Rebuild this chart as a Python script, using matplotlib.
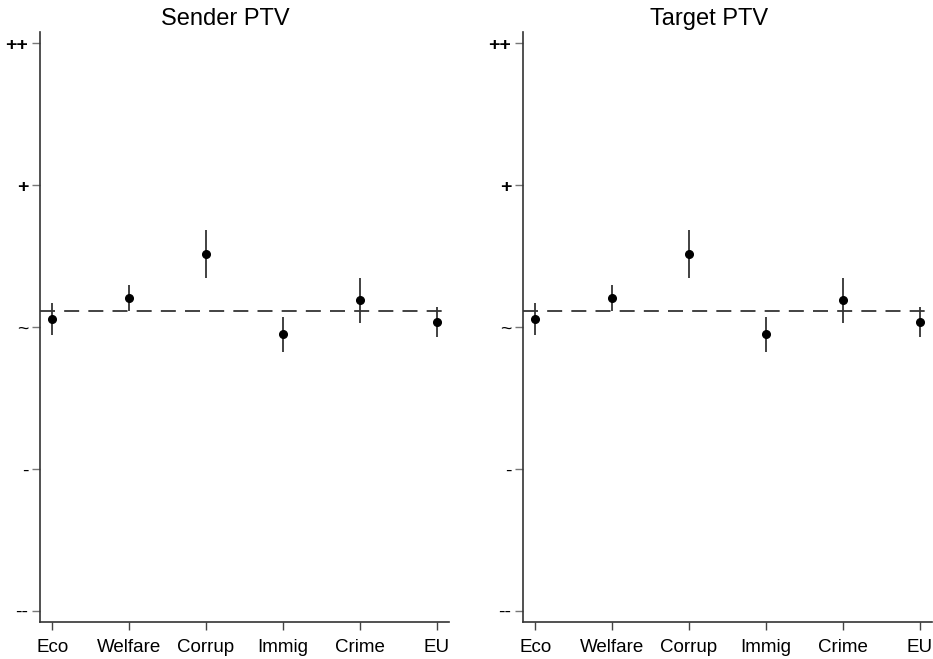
import matplotlib
matplotlib.use('Agg')
import matplotlib.pyplot as plt

plt.rcParams['font.family'] = ['Liberation Sans', 'DejaVu Sans']

# categorias y valores
categorias = ['Eco', 'Welfare', 'Corrup', 'Immig', 'Crime', 'EU']
etiquetas_y = ['--', '-', '~', '+', '++']
valores_y = [-2, -1, 0, 1, 2]

sender_est = [0.053, 0.203, 0.516, -0.048, 0.187, 0.034]
sender_low = [-0.055, 0.111, 0.347, -0.173, 0.027, -0.071]
sender_high = [0.168, 0.298, 0.686, 0.074, 0.347, 0.140]

target_est = [0.053, 0.203, 0.516, -0.048, 0.187, 0.034]
target_low = [-0.055, 0.111, 0.347, -0.173, 0.027, -0.071]
target_high = [0.168, 0.298, 0.686, 0.074, 0.347, 0.140]

linea_ref = 0.116
titulos = ['Sender PTV', 'Target PTV']


def dibujar_panel(ax, est, low, high):
    x = list(range(1, len(categorias) + 1))
    ax.axhline(linea_ref, color='#222222', linewidth=1.2, dashes=(9, 5.5), zorder=1)
    ax.vlines(x, low, high, color='#333333', linewidth=1.3, zorder=2)
    ax.plot(x, est, 'o', color='black', markersize=5.5, zorder=3)
    ax.set_xlim(0.84, 6.16)
    ax.set_ylim(-2.08, 2.08)
    ax.set_xticks(x)
    ax.set_xticklabels(categorias, fontsize=13.5)
    ax.set_yticks(valores_y)
    ax.set_yticklabels(etiquetas_y, fontsize=14)
    # los signos + se ven mas gruesos en el original
    for etiqueta in ax.get_yticklabels():
        if '+' in etiqueta.get_text():
            etiqueta.set_fontweight('bold')
    ax.spines['top'].set_visible(False)
    ax.spines['right'].set_visible(False)
    for s in ['left', 'bottom']:
        ax.spines[s].set_color('#333333')
        ax.spines[s].set_linewidth(1.2)
    ax.tick_params(axis='x', length=5.5, width=1, color='#444444', pad=7)
    ax.tick_params(axis='y', length=5.5, width=1, color='#777777', pad=3)


def main():
    fig = plt.figure(figsize=(9.33, 6.59), dpi=100)
    ax1 = fig.add_axes([40 / 933, 1 - 622 / 659, 409 / 933, 590 / 659])
    ax2 = fig.add_axes([523 / 933, 1 - 622 / 659, 409 / 933, 590 / 659])
    dibujar_panel(ax1, sender_est, sender_low, sender_high)
    dibujar_panel(ax2, target_est, target_low, target_high)
    fig.text(225 / 933, 1 - 25 / 659, titulos[0], fontsize=17, ha='center', va='baseline')
    fig.text(709 / 933, 1 - 25 / 659, titulos[1], fontsize=17, ha='center', va='baseline')
    fig.savefig('out.png', dpi=100)


if __name__ == '__main__':
    main()
